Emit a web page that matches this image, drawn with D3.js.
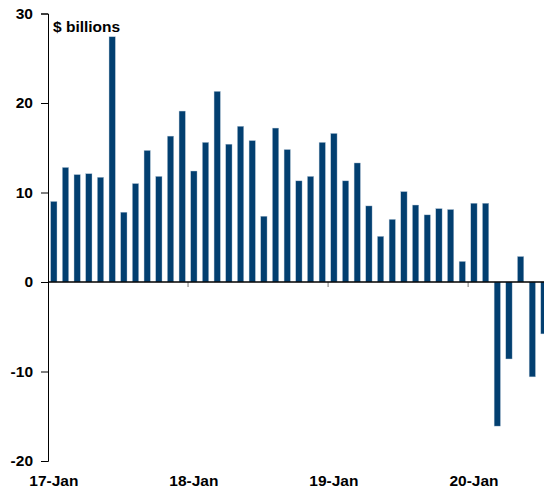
<!DOCTYPE html>
<html>
<head>
<meta charset="utf-8">
<script src="https://cdn.jsdelivr.net/npm/d3@7"></script>
<style>
  body { margin: 0; background: #fff; }
  svg text { font-family: "Liberation Sans", Arial, sans-serif; font-weight: bold; fill: #000; }
</style>
</head>
<body>
<div id="chart"></div>
<script>
// monthly values, $ billions, Jan 2017 .. Jul 2020
const months = [
    "2017-01", "2017-02", "2017-03", "2017-04", "2017-05", "2017-06",
    "2017-07", "2017-08", "2017-09", "2017-10", "2017-11", "2017-12",
    "2018-01", "2018-02", "2018-03", "2018-04", "2018-05", "2018-06",
    "2018-07", "2018-08", "2018-09", "2018-10", "2018-11", "2018-12",
    "2019-01", "2019-02", "2019-03", "2019-04", "2019-05", "2019-06",
    "2019-07", "2019-08", "2019-09", "2019-10", "2019-11", "2019-12",
    "2020-01", "2020-02", "2020-03", "2020-04", "2020-05", "2020-06",
    "2020-07"
];
const values = [
    9.0, 12.8, 12.0, 12.1, 11.7, 27.4, 7.8, 11.0, 14.7, 11.8, 16.3, 19.1,
    12.4, 15.6, 21.3, 15.4, 17.4, 15.8, 7.35, 17.2, 14.8, 11.3, 11.8, 15.6,
    16.6, 11.3, 13.3, 8.5, 5.1, 7.0, 10.1, 8.6, 7.5, 8.2, 8.1, 2.3,
    8.8, 8.8, -16.1, -8.6, 2.85, -10.6, -5.8
];
const yearStarts = ["2017-01", "2018-01", "2019-01", "2020-01"];
const yearLabels = ["17-Jan", "18-Jan", "19-Jan", "20-Jan"];
const yTicks = [-20, -10, 0, 10, 20, 30];

const width = 544, height = 491;
const left = 48, slot = 11.67;
const pad = 0.46;

const svg = d3.select("#chart")
    .append("svg")
    .attr("width", width)
    .attr("height", height);

const x = d3.scaleBand()
    .domain(months)
    .range([left, left + slot * months.length])
    .paddingInner(pad)
    .paddingOuter(pad / 2);

const y = d3.scaleLinear()
    .domain([-20, 30])
    .range([461, 13.5]);

// slot start = where a month begins (used for the year ticks)
const slotStart = m => x(m) - x.step() * pad / 2;

// bars
svg.append("g")
    .selectAll("rect")
    .data(months.map((m, i) => ({ m: m, v: values[i] })))
    .join("rect")
    .attr("x", d => x(d.m))
    .attr("y", d => y(Math.max(0, d.v)))
    .attr("width", x.bandwidth())
    .attr("height", d => Math.abs(y(d.v) - y(0)))
    .attr("fill", "#023f70")
    .attr("stroke", "#b7c7d8")
    .attr("stroke-width", 0.4);

// y axis (plain hyphen for negatives, like the original)
const yAxis = svg.append("g")
    .attr("transform", `translate(${left},0)`)
    .call(d3.axisLeft(y).tickValues(yTicks).tickSize(7).tickPadding(8)
        .tickFormat(d => String(d)));
yAxis.select(".domain").attr("stroke", "#000");
yAxis.selectAll(".tick line").attr("stroke", "#000");
yAxis.selectAll(".tick text")
    .style("font-size", "15.5px")
    .attr("font-family", null);

// year ticks under zero line
svg.append("g")
    .selectAll("line")
    .data(yearStarts.slice(1))
    .join("line")
    .attr("x1", d => slotStart(d))
    .attr("x2", d => slotStart(d))
    .attr("y1", y(0))
    .attr("y2", y(0) + 5)
    .attr("stroke", "#777")
    .attr("stroke-width", 1);

// zero line
svg.append("line")
    .attr("x1", left)
    .attr("x2", width)
    .attr("y1", y(0))
    .attr("y2", y(0))
    .attr("stroke", "#000")
    .attr("stroke-width", 1.5);

// year labels, centred on the January bar
svg.append("g")
    .selectAll("text")
    .data(yearStarts)
    .join("text")
    .attr("x", d => x(d) + x.bandwidth() / 2)
    .attr("y", 486)
    .attr("text-anchor", "middle")
    .style("font-size", "15.5px")
    .text((d, i) => yearLabels[i]);

svg.append("text")
    .attr("x", 53)
    .attr("y", 32)
    .style("font-size", "15.5px")
    .text("$ billions");
</script>
</body>
</html>
